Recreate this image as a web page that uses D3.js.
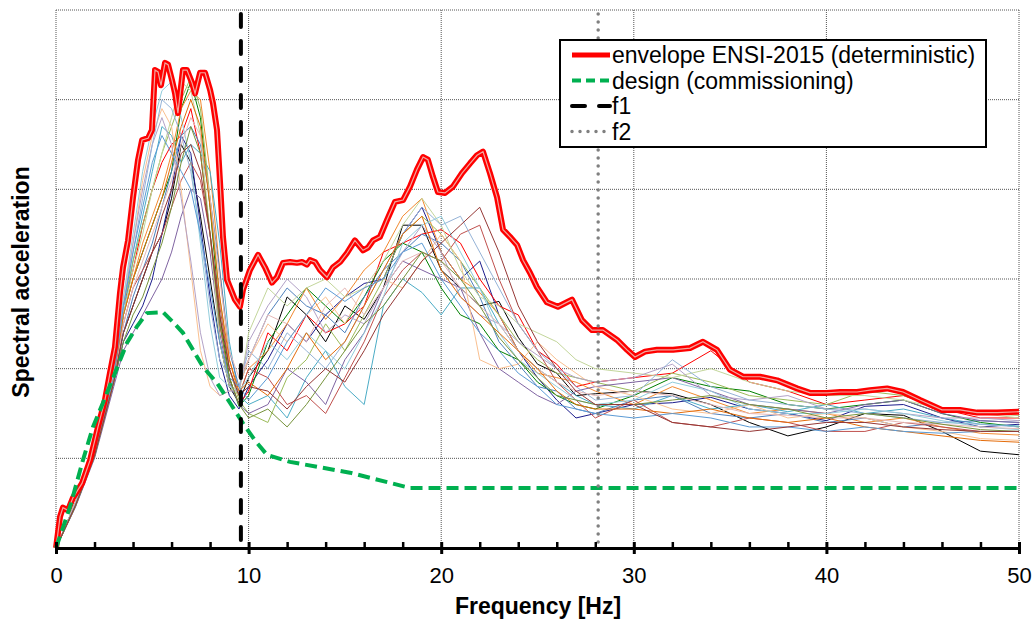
<!DOCTYPE html>
<html>
<head>
<meta charset="utf-8">
<script src="https://cdn.jsdelivr.net/npm/d3@7"></script>
<style>
  body { margin: 0; background: #fff; }
  svg text { font-family: "Liberation Sans", Arial, sans-serif; }
</style>
</head>
<body>
<div class="spectra-graph"></div>
<script>
// set the dimensions and margins of the graph
var margin = {top: 10, right: 15, bottom: 74, left: 56},
    width = 1034 - margin.left - margin.right,
    height = 622 - margin.top - margin.bottom;

// frequency grid (Hz) shared by all records
var freq = [0,1,2,3,3.5,4,4.5,5,5.5,6,6.5,7,7.5,8,8.5,9,9.5,
            10,11,12,13,14,15,16,17,18,19,20,21,22,23,24,25,26,27,28,
            30,32,34,36,38,40,42,44,46,48,50];

// individual records (spectral acceleration, relative units)
var rec01 = [0,.48,1.05,1.9,2.4,2.7,3.0,3.3,3.5,3.9,4.5,4.3,3.7,3.0,2.3,1.8,1.62, 1.9,2.2,2.8,2.6,2.3,2.7,2.55,2.9,3.6,3.6,3.1,2.9,2.7,2.75,2.35,2.05,1.95,1.7,1.72, 1.75,1.72,1.6,1.4,1.25,1.35,1.5,1.48,1.3,1.08,1.04];
var rec02 = [0,.46,1.02,1.85,2.3,2.5,2.7,3.0,3.5,4.0,4.6,4.4,3.6,2.8,2.1,1.7,1.55, 1.8,2.1,2.5,2.3,2.6,2.8,2.95,3.0,3.5,3.8,3.3,3.0,3.2,2.6,2.2,1.9,1.65,1.45,1.5, 1.6,1.62,1.68,1.55,1.5,1.42,1.58,1.6,1.45,1.35,1.38];
var rec03 = [0,.5,1.1,2.0,2.7,3.1,3.6,4.0,4.3,4.5,4.6,4.9,4.4,3.5,2.5,1.9,1.6, 1.75,2.4,2.2,2.6,2.4,2.5,2.7,3.3,3.4,3.5,3.55,3.4,3.0,2.7,2.6,2.2,2.05,1.8,1.85, 1.9,1.95,2.2,1.85,1.75,1.6,1.65,1.7,1.55,1.45,1.45];
var rec04 = [0,.47,1.05,1.9,2.6,3.0,3.3,3.6,3.9,4.2,4.9,5.2,4.8,3.8,2.6,1.9,1.58, 1.7,2.3,2.6,2.9,2.7,2.5,2.8,3.2,3.4,3.3,2.9,2.6,2.5,2.2,2.1,1.85,1.7,1.6,1.55, 1.7,1.9,1.8,1.75,1.6,1.55,1.6,1.65,1.5,1.4,1.35];
var rec05 = [0,.5,1.08,1.95,2.6,3.0,3.4,3.7,4.0,4.4,4.9,5.1,5.0,4.2,3.1,2.1,1.7, 2.0,2.2,2.5,2.9,2.55,2.8,3.1,3.3,3.7,3.9,3.3,3.0,2.85,2.6,2.2,1.95,1.9,1.85,1.75, 1.6,1.8,1.65,1.5,1.55,1.5,1.4,1.45,1.35,1.28,1.26];
var rec06 = [0,.48,1.04,1.9,2.6,3.2,3.7,4.2,4.7,4.6,4.3,4.5,4.4,4.2,3.4,2.3,1.7, 1.6,1.7,1.45,1.9,2.2,1.8,1.6,2.7,3.0,2.85,2.6,2.9,2.9,2.5,2.2,2.0,1.85,1.7,1.6, 1.55,1.7,1.55,1.6,1.52,1.6,1.5,1.55,1.45,1.38,1.36];
var rec07 = [0,.47,1.03,1.85,2.4,2.8,3.1,3.4,3.8,4.2,4.6,4.7,4.5,3.9,3.1,2.2,1.8, 2.1,2.6,2.9,2.7,2.6,2.4,2.8,3.1,3.3,3.5,3.4,3.2,2.8,2.3,2.05,1.8,1.75,1.55,1.5, 1.65,1.7,1.5,1.45,1.5,1.4,1.45,1.35,1.4,1.42,1.4];
var rec08 = [0,.5,1.06,1.95,2.7,3.2,3.6,4.0,4.4,4.7,5.0,5.25,4.9,3.9,2.8,2.0,1.65, 1.5,1.4,1.9,2.1,2.5,2.2,2.6,3.0,3.5,3.7,3.5,3.2,2.9,2.6,2.3,2.1,1.95,1.9,1.85, 1.75,1.95,1.85,1.7,1.65,1.6,1.75,1.7,1.55,1.5,1.48];
var rec09 = [0,.45,1.0,1.8,2.2,2.4,2.6,2.8,3.0,3.3,3.7,4.0,3.9,3.3,2.4,1.85,1.6, 1.5,1.6,2.0,1.85,1.6,2.1,2.4,2.9,3.2,3.1,3.0,2.9,2.4,2.0,1.85,1.7,1.6,1.75,1.8, 1.85,1.9,1.75,1.6,1.55,1.5,1.6,1.65,1.5,1.42,1.4];
var rec10 = [0,.48,1.05,1.9,2.5,2.9,3.1,3.3,3.5,3.8,4.1,4.3,4.1,3.5,2.7,2.0,1.7, 2.0,1.9,1.6,1.7,1.5,1.9,2.3,2.8,3.1,3.3,3.2,3.5,3.6,3.0,2.5,2.2,1.85,1.65,1.45, 1.65,1.4,1.35,1.45,1.4,1.3,1.3,1.4,1.35,1.3,1.3];
var rec11 = [0,.5,1.07,1.95,2.8,3.4,4.1,4.6,4.9,4.7,4.0,3.1,2.2,1.8,1.7,1.75,1.8, 2.1,2.5,2.3,2.6,2.8,2.5,2.9,3.0,2.9,3.2,3.5,3.2,2.1,2.0,2.05,2.3,2.1,1.95,1.8, 1.7,1.55,1.5,1.6,1.45,1.5,1.45,1.35,1.3,1.22,1.2];
var rec12 = [0,.49,1.06,1.95,2.6,3.1,3.5,4.0,4.4,4.8,5.2,5.1,4.6,3.5,2.3,1.8,1.7, 2.4,2.9,2.7,2.9,3.0,2.8,2.9,3.2,3.6,3.9,3.6,3.1,2.8,2.7,2.5,2.4,2.3,2.1,2.0, 1.95,1.9,2.0,1.85,1.75,1.7,1.7,1.65,1.55,1.5,1.45];
var rec13 = [0,.47,1.03,1.85,2.7,3.4,4.0,4.5,4.8,4.5,3.9,3.2,2.4,1.9,1.7,1.75,1.75, 2.3,2.7,3.0,2.8,2.4,2.6,2.5,2.9,3.3,3.6,3.3,2.8,2.6,2.5,2.3,2.15,2.0,1.9,1.85, 1.9,2.05,1.7,1.65,1.7,1.55,1.55,1.5,1.45,1.45,1.42];
var rec14 = [0,.48,1.04,1.9,2.7,3.3,3.9,4.5,5.0,4.9,4.6,4.2,3.5,2.7,2.1,1.9,1.8, 2.2,2.0,2.4,2.2,2.0,2.3,2.7,3.1,3.5,3.8,3.6,3.7,3.3,2.9,2.5,2.2,2.0,1.8,1.65, 1.7,2.1,1.8,1.65,1.6,1.55,1.5,1.45,1.4,1.38,1.35];
var rec15 = [0,.5,1.07,1.95,2.8,3.5,4.2,4.7,5.1,5.2,4.8,4.3,3.4,2.5,1.9,1.8,1.75, 1.9,2.3,2.1,2.4,2.2,2.0,2.4,2.8,3.4,3.6,3.7,3.3,2.9,2.4,2.1,1.95,1.8,1.65,1.6, 1.65,1.85,1.75,1.55,1.5,1.5,1.55,1.5,1.42,1.35,1.32];
var rec16 = [0,.49,1.05,1.9,2.5,2.9,3.2,3.5,3.8,4.1,4.5,4.8,4.6,3.9,3.0,2.2,1.9, 2.1,2.6,2.5,2.3,2.7,2.9,2.6,2.9,3.2,3.3,3.2,2.9,2.7,2.5,2.2,2.0,1.85,1.75,1.7, 1.75,1.7,1.6,1.5,1.48,1.45,1.45,1.4,1.38,1.35,1.33];
var rec17 = [0,.47,1.04,1.9,2.6,3.0,3.3,3.6,3.9,4.3,4.7,5.0,4.7,3.8,2.8,2.1,1.75, 1.85,1.7,2.0,2.4,2.1,2.3,2.7,3.1,3.5,3.7,3.1,2.8,2.6,2.4,2.2,2.0,1.75,1.6,1.55, 1.55,1.5,1.55,1.45,1.4,1.45,1.35,1.3,1.25,1.2,1.18];
var rec18 = [0,.48,1.05,1.9,2.7,3.3,3.8,4.3,4.6,4.4,4.2,4.0,3.5,2.9,2.3,1.9,1.8, 1.65,1.9,2.3,2.6,2.9,2.75,2.9,3.0,3.3,3.4,3.0,2.7,2.4,2.2,1.95,1.8,1.6,1.55,1.5, 1.45,1.5,1.45,1.35,1.35,1.3,1.35,1.3,1.28,1.3,1.3];
var rec19 = [0,.46,1.02,1.85,2.3,2.6,2.8,3.1,3.4,3.8,4.3,4.7,4.4,3.5,2.5,1.9,1.6, 1.45,1.55,1.35,1.6,1.9,2.2,2.5,2.7,3.0,3.3,3.2,3.0,2.7,2.35,2.1,1.9,1.7,1.65,1.6, 1.6,1.65,1.7,1.6,1.55,1.45,1.5,1.45,1.38,1.32,1.3];
var rec20 = [0,.47,1.03,1.85,2.4,2.7,3.0,3.3,3.7,4.0,4.4,4.5,4.2,3.5,2.6,2.0,1.7, 1.8,1.75,1.55,1.8,2.0,1.85,2.2,2.6,2.9,3.2,3.4,3.6,3.8,3.3,2.7,2.3,2.0,1.75,1.6, 1.6,1.4,1.35,1.3,1.35,1.4,1.4,1.35,1.32,1.3,1.3];

var records = [rec01, rec02, rec03, rec04, rec05, rec06, rec07, rec08, rec09, rec10,
               rec11, rec12, rec13, rec14, rec15, rec16, rec17, rec18, rec19, rec20];
var recordColors = ["#000000","#1c1c8c","#ff0000","#008000","#f28a30","#4bacc6","#4f81bd","#9bbb59","#8064a2","#c0504d",
                    "#fac090","#c3d69b","#b3a2c7","#95b3d7","#92cddc","#e6b9b8","#e46c0a","#5b9bd5","#77933c","#953735"];

// envelope ENSI-2015
var envFreq = [0,0.21,0.36,0.62,0.88,1.35,1.77,2.18,2.54,2.8,3.06,3.32,3.48,3.74,4.0,4.26,4.47,4.78,4.98,5.14,5.3,5.45,5.66,5.82,6.02,6.18,6.33,6.59,6.8,7.06,7.22,7.48,7.74,8.0,8.15,8.36,8.52,8.67,8.88,9.29,9.55,9.71,
               10.07,10.49,10.85,11.21,11.47,11.79,12.15,12.51,12.77,13.03,13.19,13.45,13.71,14.07,14.38,14.75,15.11,15.52,15.94,16.2,16.46,16.82,17.19,17.6,18.02,18.38,18.74,19.06,19.31,19.57,19.83,20.2,20.61,21.08,21.5,21.86,22.17,22.53,22.9,23.21,23.57,23.94,24.25,24.61,24.97,
               25.49,26.06,26.79,27.31,27.83,28.4,29.13,29.65,30.06,30.58,31.2,32.04,32.92,33.59,34.32,34.99,35.67,36.55,37.44,38.47,39.15,40.03,40.71,41.59,42.26,43.15,43.98,44.86,46.0,46.94,47.82,48.86,50];
var envVal = [0,0.35,0.45,0.42,0.56,0.72,0.98,1.35,1.65,1.95,2.24,2.84,3.13,3.43,3.91,4.33,4.55,4.57,4.66,5.33,5.31,5.16,5.41,5.39,5.22,5.07,4.85,5.33,5.33,5.19,5.07,5.3,5.3,5.11,4.96,4.66,4.07,3.47,2.99,2.77,2.69,2.88,
              3.1,3.27,3.13,2.96,3.02,3.18,3.19,3.18,3.19,3.16,3.21,3.19,3.1,3.02,3.13,3.19,3.29,3.43,3.32,3.35,3.43,3.47,3.66,3.86,3.88,4.03,4.22,4.36,4.33,4.14,3.97,3.96,4.03,4.18,4.29,4.38,4.42,4.18,3.91,3.55,3.47,3.38,3.21,3.07,2.91,
              2.74,2.69,2.77,2.54,2.43,2.43,2.32,2.21,2.13,2.19,2.21,2.21,2.23,2.3,2.21,1.99,1.91,1.91,1.87,1.78,1.73,1.73,1.74,1.74,1.76,1.78,1.74,1.65,1.54,1.54,1.51,1.51,1.52];

// design spectrum (commissioning)
var designFreq = [0,0.73,1.4,1.92,2.44,3.06,3.69,4.2,4.72,5.56,6.07,6.59,7.11,7.63,8.36,9.03,9.71,10.33,10.95,12.15,15.26,18.38,50];
var designVal  = [0,0.46,0.98,1.35,1.62,1.95,2.29,2.47,2.62,2.63,2.52,2.4,2.21,2.02,1.84,1.62,1.39,1.2,1.04,0.96,0.84,0.67,0.67];

// characteristic frequencies
var f1 = 9.6, f2 = 28.15;

var majorTicks = [0,10,20,30,40,50];
var minorTicks = [2,4,6,8,12,14,16,18,22,24,26,28,32,34,36,38,42,44,46,48];
var gridY = [1,2,3,4,5,6];

var legendLabels = ["envelope ENSI-2015 (deterministic)", "design (commissioning)", "f1", "f2"];

var svg = d3.select(".spectra-graph").append("svg")
    .attr("width", width + margin.left + margin.right)
    .attr("height", height + margin.top + margin.bottom);

var x = d3.scaleLinear().domain([0, 50]).range([0, width]);
var y = d3.scaleLinear().domain([0, 6]).range([height, 0]);

var g = svg.append("g")
    .attr("transform", "translate(" + margin.left + "," + margin.top + ")");

// dotted grid
g.selectAll(".hgrid").data(gridY).enter().append("line")
    .attr("x1", 0).attr("x2", width)
    .attr("y1", function(d) { return y(d); }).attr("y2", function(d) { return y(d); })
    .attr("stroke", "#555").attr("stroke-width", 1).attr("stroke-dasharray", "1,1");
g.selectAll(".vgrid").data(majorTicks).enter().append("line")
    .attr("x1", function(d) { return x(d); }).attr("x2", function(d) { return x(d); })
    .attr("y1", 0).attr("y2", height)
    .attr("stroke", "#555").attr("stroke-width", 1).attr("stroke-dasharray", "1,1");

var line = d3.line()
    .x(function(d) { return x(d[0]); })
    .y(function(d) { return y(d[1]); });

// records
records.forEach(function(rec, i) {
  g.append("path")
      .datum(freq.map(function(f, j) { return [f, rec[j]]; }))
      .attr("fill", "none")
      .attr("stroke", recordColors[i])
      .attr("stroke-width", 1)
      .attr("d", line);
});

// envelope
var envData = envFreq.map(function(f, j) { return [f, envVal[j]]; });
g.append("path").datum(envData)
    .attr("fill", "none").attr("stroke", "#ff0000").attr("stroke-width", 6)
    .attr("stroke-linejoin", "round").attr("d", line);
g.append("path").datum(envData)
    .attr("fill", "none").attr("stroke", "#f0a8a0").attr("stroke-width", 1.2)
    .attr("d", line);

// design
g.append("path")
    .datum(designFreq.map(function(f, j) { return [f, designVal[j]]; }))
    .attr("fill", "none").attr("stroke", "#00b050").attr("stroke-width", 4)
    .attr("stroke-dasharray", "12,6").attr("d", line);

// f1 and f2
g.append("line")
    .attr("x1", x(f1)).attr("x2", x(f1)).attr("y1", 4).attr("y2", height)
    .attr("stroke", "#000").attr("stroke-width", 4).attr("stroke-linecap", "round")
    .attr("stroke-dasharray", "13,14");
g.append("line")
    .attr("x1", x(f2)).attr("x2", x(f2)).attr("y1", 4).attr("y2", height)
    .attr("stroke", "#808080").attr("stroke-width", 3.5).attr("stroke-linecap", "round")
    .attr("stroke-dasharray", "0,8");

// x axis
var xAxis = g.append("g")
    .attr("transform", "translate(0," + height + ")")
    .call(d3.axisBottom(x).tickValues(majorTicks).tickSize(6).tickPadding(13).tickFormat(d3.format("d")));
xAxis.select(".domain").attr("stroke-width", 3);
xAxis.selectAll(".tick line").attr("stroke-width", 3).attr("y1", -6);
xAxis.selectAll(".tick text").attr("font-size", "22px").attr("fill", "#000");

g.append("g")
    .attr("transform", "translate(0," + height + ")")
    .call(d3.axisBottom(x).tickValues(minorTicks).tickSize(-6).tickFormat(""))
    .call(function(a) { a.select(".domain").remove(); })
    .selectAll(".tick line").attr("stroke-width", 2.5);

svg.append("text")
    .attr("x", 538).attr("y", 614)
    .attr("text-anchor", "middle").attr("font-size", "23px").attr("font-weight", "bold")
    .text("Frequency [Hz]");

svg.append("text")
    .attr("transform", "translate(29," + 282 + ") rotate(-90)")
    .attr("text-anchor", "middle").attr("font-size", "23px").attr("font-weight", "bold")
    .text("Spectral acceleration");

// legend
var legend = svg.append("g").attr("transform", "translate(560,40)");
legend.append("rect")
    .attr("width", 426).attr("height", 107)
    .attr("fill", "#fff").attr("stroke", "#000").attr("stroke-width", 2);

var legendStyles = [
  {stroke: "#ff0000", width: 5, dash: null, cap: "butt"},
  {stroke: "#00b050", width: 4, dash: "9,5", cap: "butt"},
  {stroke: "#000", width: 4, dash: "13,14", cap: "round"},
  {stroke: "#808080", width: 3.5, dash: "0,8", cap: "round"}
];
legendLabels.forEach(function(lbl, i) {
  var ly = 15 + i * 25.5;
  legend.append("line")
      .attr("x1", 12).attr("x2", 50).attr("y1", ly).attr("y2", ly)
      .attr("stroke", legendStyles[i].stroke).attr("stroke-width", legendStyles[i].width)
      .attr("stroke-dasharray", legendStyles[i].dash).attr("stroke-linecap", legendStyles[i].cap);
  legend.append("text")
      .attr("x", 52).attr("y", ly + 8)
      .attr("font-size", "23px").attr("fill", "#000")
      .text(lbl);
});
</script>
</body>
</html>
